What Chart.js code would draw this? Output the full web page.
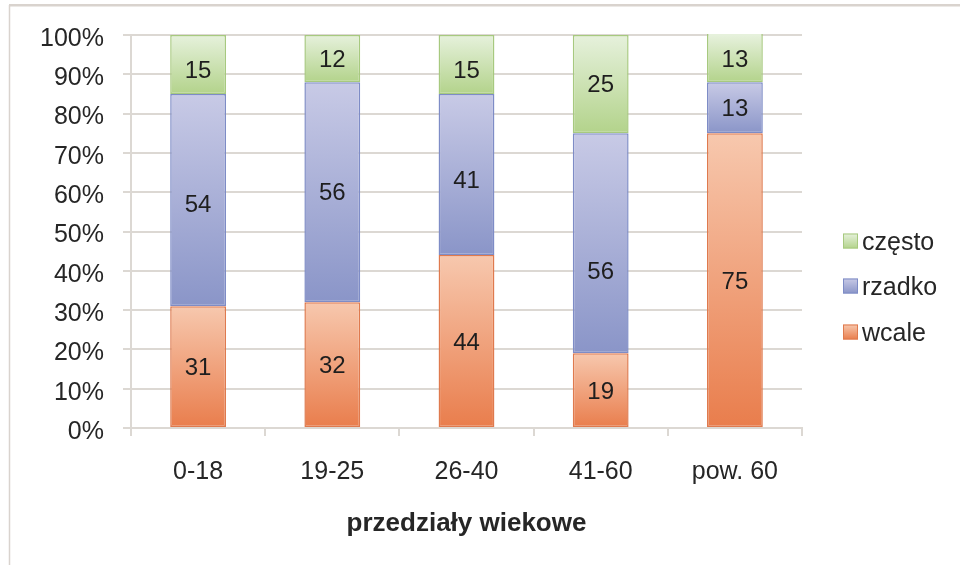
<!DOCTYPE html>
<html>
<head>
<meta charset="utf-8">
<script src="https://cdn.jsdelivr.net/npm/chart.js@4/dist/chart.umd.min.js"></script>
<style>
  html, body { margin: 0; padding: 0; background: #fff; }
  #wrap { width: 960px; height: 565px; position: relative; }
</style>
</head>
<body>
<div id="wrap"><canvas id="chart" width="960" height="565"></canvas></div>
<script>
// Dane: odsetek odpowiedzi w przedziałach wiekowych
const categories = ["0-18", "19-25", "26-40", "41-60", "pow. 60"]
const wcale = [31, 32, 44, 19, 75]
const rzadko = [54, 56, 41, 56, 13]
const czesto = [15, 12, 15, 25, 13]
const seriesNames = ["wcale", "rzadko", "często"]
const yTicks = [0, 10, 20, 30, 40, 50, 60, 70, 80, 90, 100]

const FONT = "'Liberation Sans', Arial, sans-serif"
const TEXT = "#262626"
const GRID = "#dcd8d3"

// kolory: [góra gradientu, dół gradientu, obramowanie]
const palette = [
  ["#f7c8ae", "#e97d4c", "#df7a4e"],
  ["#c8cae6", "#8a95c8", "#7e8cc6"],
  ["#e6f1dc", "#b3d38b", "#a7c97f"],
]
const seriesData = [wcale, rzadko, czesto]

// ręcznie przesunięte etykiety (w pikselach, w dół), klucz "seria:kategoria"
const labelNudge = { "1:0": 4, "1:2": 5, "1:3": 28, "2:0": 5, "2:2": 5 }

// gradient dla pojedynczego segmentu słupka
function segmentFill(dsIndex) {
  return (ctx) => {
    const chart = ctx.chart
    const y = chart.scales.y
    if (ctx.type !== "data" || !y || !chart.chartArea) return palette[dsIndex][1]
    let start = 0
    for (let i = 0; i < dsIndex; i++) start += seriesData[i][ctx.dataIndex]
    const end = start + seriesData[dsIndex][ctx.dataIndex]
    const top = y.getPixelForValue(Math.min(end, 100))
    const bottom = y.getPixelForValue(start)
    const g = chart.ctx.createLinearGradient(0, top, 0, bottom)
    g.addColorStop(0, palette[dsIndex][0])
    g.addColorStop(1, palette[dsIndex][1])
    return g
  }
}

// ramka wokół wykresu (tylko góra i lewa strona)
const framePlugin = {
  id: "frame",
  beforeDraw(chart) {
    const c = chart.ctx
    c.save()
    c.strokeStyle = "#d9d3ce"
    c.lineWidth = 2.5
    c.beginPath()
    c.moveTo(9, 5.3)
    c.lineTo(960, 5.3)
    c.stroke()
    c.lineWidth = 1.5
    c.beginPath()
    c.moveTo(9.5, 5)
    c.lineTo(9.5, 565)
    c.stroke()
    c.restore()
  },
}

// wartości w środku widocznej części segmentów
const valueLabels = {
  id: "valueLabels",
  afterDatasetsDraw(chart) {
    const c = chart.ctx
    const y = chart.scales.y
    c.save()
    c.font = "24px " + FONT
    c.fillStyle = "#1e1e1e"
    c.textAlign = "center"
    c.textBaseline = "middle"
    chart.data.datasets.forEach((ds, di) => {
      const meta = chart.getDatasetMeta(di)
      meta.data.forEach((bar, i) => {
        let start = 0
        for (let k = 0; k < di; k++) start += seriesData[k][i]
        const end = Math.min(start + ds.data[i], 100)
        const mid = y.getPixelForValue((start + end) / 2)
        const shift = labelNudge[di + ":" + i] || 0
        c.fillText(String(ds.data[i]), bar.x, mid + 1.5 + shift)
      })
    })
    c.restore()
  },
}

// legenda po prawej, od góry: często, rzadko, wcale
const sideLegend = {
  id: "sideLegend",
  afterDraw(chart) {
    const c = chart.ctx
    const order = [2, 1, 0]
    const rows = [241, 286, 332]
    c.save()
    c.font = "25px " + FONT
    c.textBaseline = "middle"
    c.textAlign = "left"
    order.forEach((di, r) => {
      const cy = rows[r]
      const g = c.createLinearGradient(0, cy - 7.5, 0, cy + 7.5)
      g.addColorStop(0, palette[di][0])
      g.addColorStop(1, palette[di][1])
      c.fillStyle = g
      c.fillRect(843, cy - 7.5, 15, 15)
      c.strokeStyle = palette[di][2]
      c.lineWidth = 1
      c.strokeRect(843.5, cy - 7, 14, 14)
      c.fillStyle = TEXT
      c.fillText(chart.data.datasets[di].label, 862, cy + 2)
    })
    c.restore()
  },
}

new Chart(document.getElementById("chart"), {
  type: "bar",
  data: {
    labels: categories,
    datasets: seriesData.map((vals, i) => ({
      label: seriesNames[i],
      data: vals,
      backgroundColor: segmentFill(i),
      borderColor: palette[i][2],
      borderWidth: 1.5,
      borderSkipped: false,
      categoryPercentage: 1,
      barPercentage: 0.416,
      clip: 1,
    })),
  },
  options: {
    responsive: false,
    animation: false,
    devicePixelRatio: 1,
    layout: { padding: { top: 35, right: 158, bottom: 0, left: 0 } },
    plugins: {
      legend: { display: false },
      tooltip: { enabled: false },
    },
    scales: {
      x: {
        stacked: true,
        afterFit: (s) => { s.height = 137 },
        border: { color: GRID, width: 2 },
        grid: {
          drawOnChartArea: false,
          drawTicks: true,
          tickLength: 8,
          color: GRID,
          lineWidth: 2,
          offset: true,
        },
        ticks: {
          padding: 21,
          color: TEXT,
          font: { family: FONT, size: 25 },
        },
        title: {
          display: true,
          text: "przedziały wiekowe",
          color: TEXT,
          font: { family: FONT, size: 26, weight: "bold" },
          padding: { top: 0, bottom: 26 },
        },
      },
      y: {
        stacked: true,
        min: 0,
        max: 100,
        afterFit: (s) => { s.width = 131 },
        afterBuildTicks: (s) => { s.ticks = yTicks.map((v) => ({ value: v })) },
        border: { color: GRID, width: 2 },
        grid: {
          color: GRID,
          lineWidth: 2,
          tickLength: 8,
        },
        ticks: {
          padding: 19,
          labelOffset: 4,
          color: TEXT,
          font: { family: FONT, size: 25 },
          callback: (v) => v + "%",
        },
      },
    },
  },
  plugins: [framePlugin, valueLabels, sideLegend],
})
</script>
</body>
</html>
